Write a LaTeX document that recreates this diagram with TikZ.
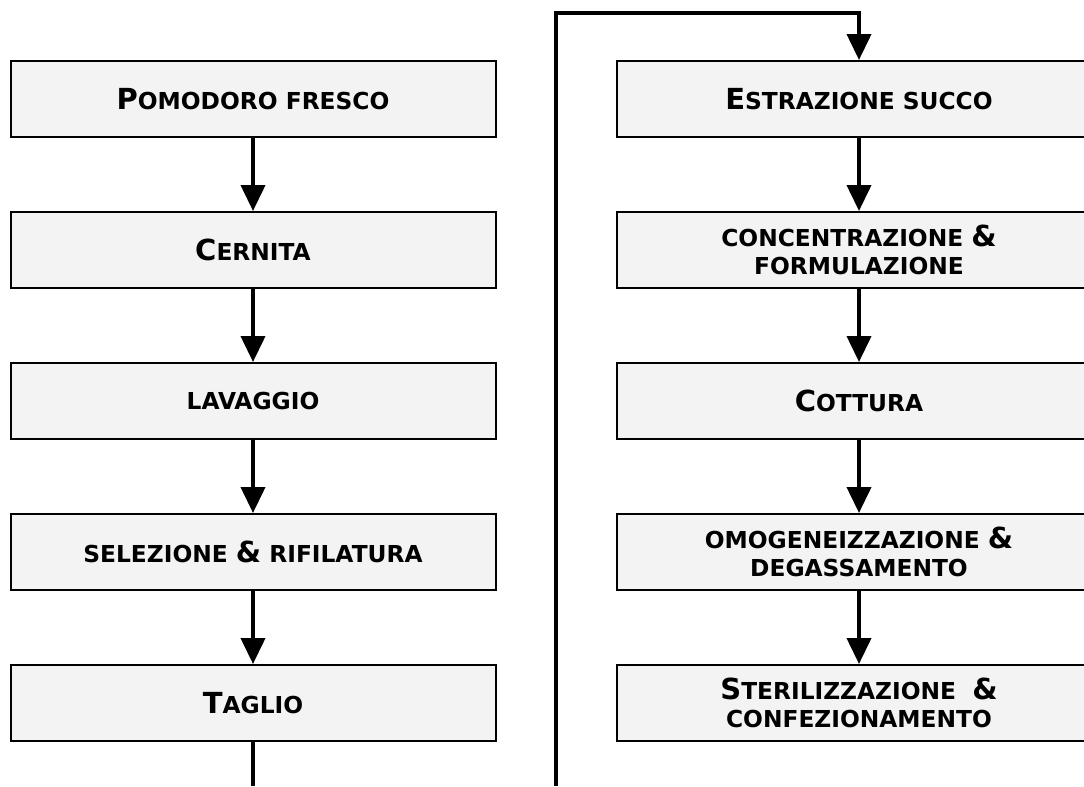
\documentclass[tikz,border=0pt]{standalone}
\usepackage{fontspec}
\setmainfont{DejaVu Sans}
\usetikzlibrary{arrows.meta,shadows}
\definecolor{boxfill}{HTML}{F3F3F3}
\newcommand\smc[1]{{\fontsize{17.5}{21}\selectfont #1}}
\newcommand\bgc[1]{{\fontsize{21.75}{21}\selectfont #1}}
\begin{document}
\begin{tikzpicture}[x=0.75pt,y=-0.75pt,
  box/.style={draw=black, line width=1.5pt, fill=boxfill,
    minimum width=363.75pt, minimum height=57pt, inner sep=0pt,
    align=center, font=\bfseries\fontsize{17.5}{21}\selectfont,
    drop shadow={shadow xshift=0.75pt, shadow yshift=-0.9pt, fill=gray!80, opacity=1}},
  conn/.style={line width=3pt, -{Triangle[width=18pt,length=19.5pt]}},
  wire/.style={line width=3pt}]
\useasboundingbox[fill=white] (0,0) rectangle (1084,786);
% left column
\node[box] (l1) at (253,99)  {\bgc{P}\smc{OMODORO FRESCO}};
\node[box] (l2) at (253,250) {\bgc{C}\smc{ERNITA}};
\node[box] (l3) at (253,401) {\smc{LAVAGGIO}};
\node[box] (l4) at (253,552) {\smc{SELEZIONE} \bgc{\&} \smc{RIFILATURA}};
\node[box] (l5) at (253,703) {\bgc{T}\smc{AGLIO}};
% right column
\node[box] (r1) at (859,99)  {\bgc{E}\smc{STRAZIONE SUCCO}};
\node[box] (r2) at (859,250) {\smc{CONCENTRAZIONE} \bgc{\&}\\\smc{FORMULAZIONE}};
\node[box] (r3) at (859,401) {\bgc{C}\smc{OTTURA}};
\node[box] (r4) at (859,552) {\smc{OMOGENEIZZAZIONE} \bgc{\&}\\\smc{DEGASSAMENTO}};
\node[box] (r5) at (859,703) {\bgc{S}\smc{TERILIZZAZIONE}\ \ \bgc{\&}\\\smc{CONFEZIONAMENTO}};
% connectors
\draw[conn] (l1) -- (l2);
\draw[conn] (l2) -- (l3);
\draw[conn] (l3) -- (l4);
\draw[conn] (l4) -- (l5);
\coordinate (lend) at (253,786);
\draw[wire] (l5.south) -- (lend);
\coordinate (rstart) at (556,786);
\coordinate (topc) at (556,13);
\draw[conn, line join=miter] (rstart) -- (topc) -| (r1.north);
\draw[conn] (r1) -- (r2);
\draw[conn] (r2) -- (r3);
\draw[conn] (r3) -- (r4);
\draw[conn] (r4) -- (r5);
\end{tikzpicture}
\end{document}
